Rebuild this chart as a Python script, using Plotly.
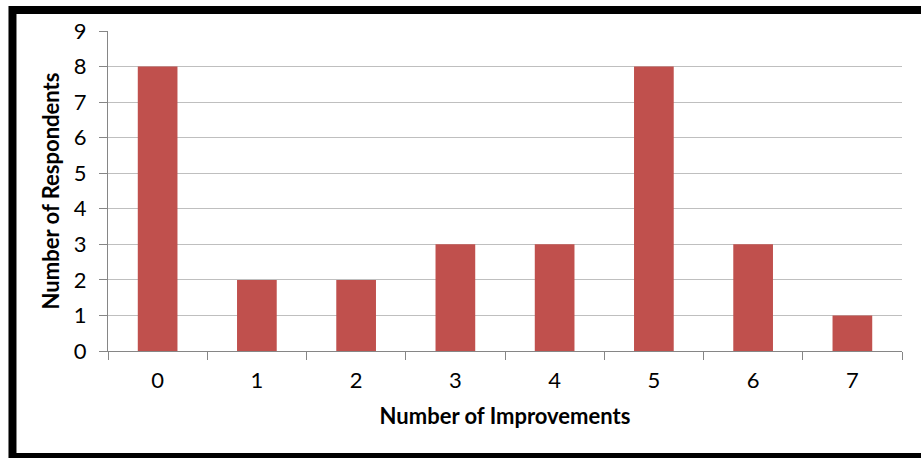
import plotly.graph_objects as go

# Survey results: how many respondents reported each number of improvements
improvements = ["0", "1", "2", "3", "4", "5", "6", "7"]
respondents = [8, 2, 2, 3, 3, 8, 3, 1]

bar_color = "#C0504D"
axis_color = "#868686"
font_family = "Lato, 'Open Sans', sans-serif"

fig = go.Figure(
    go.Bar(
        x=improvements,
        y=respondents,
        marker=dict(color=bar_color, line=dict(width=0)),
        hoverinfo="x+y",
    )
)

fig.update_layout(
    width=921,
    height=458,
    margin=dict(l=108, r=19, t=31, b=107),
    paper_bgcolor="white",
    plot_bgcolor="white",
    bargap=0.6,
    showlegend=False,
    font=dict(family=font_family, size=22, color="#000000"),
    shapes=[
        # heavy black frame around the chart
        dict(
            type="rect",
            xref="paper",
            yref="paper",
            x0=-0.1203,
            x1=1.07,
            y0=-0.331,
            y1=1.0656,
            line=dict(color="black", width=8),
            fillcolor="rgba(0,0,0,0)",
            layer="above",
        )
    ],
)

fig.update_xaxes(
    type="category",
    tickson="boundaries",
    ticks="outside",
    ticklen=8,
    tickcolor=axis_color,
    showline=True,
    linecolor=axis_color,
    linewidth=1,
    showgrid=False,
    tickfont=dict(size=22),
    ticklabelstandoff=10,
    title=dict(
        text="<b>Number of Improvements</b>",
        font=dict(size=22),
        standoff=16,
    ),
)

fig.update_yaxes(
    range=[0, 9],
    dtick=1,
    ticks="outside",
    ticklen=8,
    tickcolor=axis_color,
    showline=True,
    linecolor=axis_color,
    linewidth=1,
    showgrid=True,
    gridcolor="#BFBFBF",
    gridwidth=1,
    zeroline=False,
    tickfont=dict(size=22),
    ticklabelstandoff=8,
    title=dict(
        text="<b>Number of Respondents</b>",
        font=dict(size=22),
        standoff=8,
    ),
)

fig.write_html("out.html")
